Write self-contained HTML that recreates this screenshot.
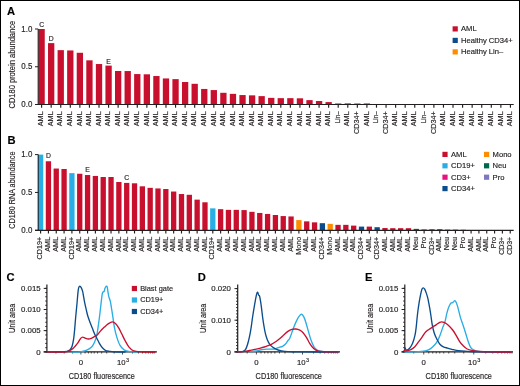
<!DOCTYPE html>
<html><head><meta charset="utf-8"><title>CD180 figure</title>
<style>
html,body{margin:0;padding:0;background:#fff;}
body{width:520px;height:386px;overflow:hidden;}
svg{display:block;font-family:"Liberation Sans",sans-serif;will-change:transform;}
text{stroke:#231F20;stroke-width:0.16px;}
</style></head>
<body>
<svg width="520" height="386" viewBox="0 0 520 386" fill="#231F20">
<rect x="0.5" y="0.5" width="519" height="385" fill="#fff" stroke="#000" stroke-width="1"/>
<text x="6.9" y="14.9" font-size="11.2" font-weight="bold" fill="#000">A</text>
<text x="7.6" y="143.9" font-size="11.2" font-weight="bold" fill="#000">B</text>
<text x="6.6" y="281.3" font-size="11.2" font-weight="bold" fill="#000">C</text>
<text x="197.8" y="281.3" font-size="11.2" font-weight="bold" fill="#000">D</text>
<text x="365" y="281.3" font-size="11.2" font-weight="bold" fill="#000">E</text>
<rect x="38.45" y="29" width="6.3" height="75.5" fill="#C8102E"/>
<rect x="48.02" y="43.12" width="6.3" height="61.38" fill="#C8102E"/>
<rect x="57.59" y="50.14" width="6.3" height="54.36" fill="#C8102E"/>
<rect x="67.15" y="50.44" width="6.3" height="54.06" fill="#C8102E"/>
<rect x="76.72" y="52.78" width="6.3" height="51.72" fill="#C8102E"/>
<rect x="86.29" y="60.33" width="6.3" height="44.17" fill="#C8102E"/>
<rect x="95.86" y="64.03" width="6.3" height="40.47" fill="#C8102E"/>
<rect x="105.43" y="65.62" width="6.3" height="38.88" fill="#C8102E"/>
<rect x="114.99" y="70.98" width="6.3" height="33.52" fill="#C8102E"/>
<rect x="124.56" y="71.05" width="6.3" height="33.45" fill="#C8102E"/>
<rect x="134.13" y="74.07" width="6.3" height="30.43" fill="#C8102E"/>
<rect x="143.7" y="74.3" width="6.3" height="30.2" fill="#C8102E"/>
<rect x="153.27" y="76.04" width="6.3" height="28.46" fill="#C8102E"/>
<rect x="162.83" y="78.45" width="6.3" height="26.05" fill="#C8102E"/>
<rect x="172.4" y="79.13" width="6.3" height="25.37" fill="#C8102E"/>
<rect x="181.97" y="82" width="6.3" height="22.5" fill="#C8102E"/>
<rect x="191.54" y="83.81" width="6.3" height="20.69" fill="#C8102E"/>
<rect x="201.11" y="88.95" width="6.3" height="15.55" fill="#C8102E"/>
<rect x="210.67" y="90.08" width="6.3" height="14.42" fill="#C8102E"/>
<rect x="220.24" y="92.8" width="6.3" height="11.7" fill="#C8102E"/>
<rect x="229.81" y="93.85" width="6.3" height="10.65" fill="#C8102E"/>
<rect x="239.38" y="95.06" width="6.3" height="9.44" fill="#C8102E"/>
<rect x="248.95" y="95.36" width="6.3" height="9.14" fill="#C8102E"/>
<rect x="258.51" y="96.12" width="6.3" height="8.38" fill="#C8102E"/>
<rect x="268.08" y="97.86" width="6.3" height="6.64" fill="#C8102E"/>
<rect x="277.65" y="98.16" width="6.3" height="6.34" fill="#C8102E"/>
<rect x="287.22" y="98.16" width="6.3" height="6.34" fill="#C8102E"/>
<rect x="296.79" y="98.31" width="6.3" height="6.19" fill="#C8102E"/>
<rect x="306.35" y="100.12" width="6.3" height="4.38" fill="#C8102E"/>
<rect x="315.92" y="101.03" width="6.3" height="3.47" fill="#C8102E"/>
<rect x="325.49" y="102.08" width="6.3" height="2.42" fill="#C8102E"/>
<rect x="335.06" y="102.99" width="6.3" height="1.51" fill="#FF8C00"/>
<rect x="344.63" y="103.37" width="6.3" height="1.13" fill="#C8102E"/>
<rect x="354.19" y="103.52" width="6.3" height="0.98" fill="#0B4D8C"/>
<rect x="363.76" y="103.44" width="6.3" height="1.06" fill="#C8102E"/>
<rect x="373.33" y="103.97" width="6.3" height="0.53" fill="#FF8C00"/>
<rect x="382.9" y="104.12" width="6.3" height="0.38" fill="#0B4D8C"/>
<rect x="392.47" y="104.12" width="6.3" height="0.38" fill="#C8102E"/>
<line x1="38.2" y1="29" x2="38.2" y2="105" stroke="#231F20" stroke-width="1.1"/>
<line x1="35" y1="104.5" x2="513.7" y2="104.5" stroke="#231F20" stroke-width="1.2"/>
<line x1="35" y1="29" x2="38.2" y2="29" stroke="#231F20" stroke-width="1"/>
<text x="32.3" y="31.6" font-size="8.3" text-anchor="end" textLength="11" lengthAdjust="spacingAndGlyphs">1.0</text>
<line x1="35" y1="66.75" x2="38.2" y2="66.75" stroke="#231F20" stroke-width="1"/>
<text x="32.3" y="69.35" font-size="8.3" text-anchor="end" textLength="11" lengthAdjust="spacingAndGlyphs">0.5</text>
<line x1="35" y1="104.5" x2="38.2" y2="104.5" stroke="#231F20" stroke-width="1"/>
<text x="32.3" y="107.1" font-size="8.3" text-anchor="end" textLength="11" lengthAdjust="spacingAndGlyphs">0.0</text>
<line x1="41.6" y1="104.5" x2="41.6" y2="107.7" stroke="#231F20" stroke-width="1.15"/>
<text x="43.3" y="111.3" font-size="7.5" text-anchor="end" textLength="15" lengthAdjust="spacingAndGlyphs" transform="rotate(-90 43.3 111.3)">AML</text>
<line x1="51.17" y1="104.5" x2="51.17" y2="107.7" stroke="#231F20" stroke-width="1.15"/>
<text x="52.87" y="111.3" font-size="7.5" text-anchor="end" textLength="15" lengthAdjust="spacingAndGlyphs" transform="rotate(-90 52.87 111.3)">AML</text>
<line x1="60.74" y1="104.5" x2="60.74" y2="107.7" stroke="#231F20" stroke-width="1.15"/>
<text x="62.44" y="111.3" font-size="7.5" text-anchor="end" textLength="15" lengthAdjust="spacingAndGlyphs" transform="rotate(-90 62.44 111.3)">AML</text>
<line x1="70.3" y1="104.5" x2="70.3" y2="107.7" stroke="#231F20" stroke-width="1.15"/>
<text x="72" y="111.3" font-size="7.5" text-anchor="end" textLength="15" lengthAdjust="spacingAndGlyphs" transform="rotate(-90 72 111.3)">AML</text>
<line x1="79.87" y1="104.5" x2="79.87" y2="107.7" stroke="#231F20" stroke-width="1.15"/>
<text x="81.57" y="111.3" font-size="7.5" text-anchor="end" textLength="15" lengthAdjust="spacingAndGlyphs" transform="rotate(-90 81.57 111.3)">AML</text>
<line x1="89.44" y1="104.5" x2="89.44" y2="107.7" stroke="#231F20" stroke-width="1.15"/>
<text x="91.14" y="111.3" font-size="7.5" text-anchor="end" textLength="15" lengthAdjust="spacingAndGlyphs" transform="rotate(-90 91.14 111.3)">AML</text>
<line x1="99.01" y1="104.5" x2="99.01" y2="107.7" stroke="#231F20" stroke-width="1.15"/>
<text x="100.71" y="111.3" font-size="7.5" text-anchor="end" textLength="15" lengthAdjust="spacingAndGlyphs" transform="rotate(-90 100.71 111.3)">AML</text>
<line x1="108.58" y1="104.5" x2="108.58" y2="107.7" stroke="#231F20" stroke-width="1.15"/>
<text x="110.28" y="111.3" font-size="7.5" text-anchor="end" textLength="15" lengthAdjust="spacingAndGlyphs" transform="rotate(-90 110.28 111.3)">AML</text>
<line x1="118.14" y1="104.5" x2="118.14" y2="107.7" stroke="#231F20" stroke-width="1.15"/>
<text x="119.84" y="111.3" font-size="7.5" text-anchor="end" textLength="15" lengthAdjust="spacingAndGlyphs" transform="rotate(-90 119.84 111.3)">AML</text>
<line x1="127.71" y1="104.5" x2="127.71" y2="107.7" stroke="#231F20" stroke-width="1.15"/>
<text x="129.41" y="111.3" font-size="7.5" text-anchor="end" textLength="15" lengthAdjust="spacingAndGlyphs" transform="rotate(-90 129.41 111.3)">AML</text>
<line x1="137.28" y1="104.5" x2="137.28" y2="107.7" stroke="#231F20" stroke-width="1.15"/>
<text x="138.98" y="111.3" font-size="7.5" text-anchor="end" textLength="15" lengthAdjust="spacingAndGlyphs" transform="rotate(-90 138.98 111.3)">AML</text>
<line x1="146.85" y1="104.5" x2="146.85" y2="107.7" stroke="#231F20" stroke-width="1.15"/>
<text x="148.55" y="111.3" font-size="7.5" text-anchor="end" textLength="15" lengthAdjust="spacingAndGlyphs" transform="rotate(-90 148.55 111.3)">AML</text>
<line x1="156.42" y1="104.5" x2="156.42" y2="107.7" stroke="#231F20" stroke-width="1.15"/>
<text x="158.12" y="111.3" font-size="7.5" text-anchor="end" textLength="15" lengthAdjust="spacingAndGlyphs" transform="rotate(-90 158.12 111.3)">AML</text>
<line x1="165.98" y1="104.5" x2="165.98" y2="107.7" stroke="#231F20" stroke-width="1.15"/>
<text x="167.68" y="111.3" font-size="7.5" text-anchor="end" textLength="15" lengthAdjust="spacingAndGlyphs" transform="rotate(-90 167.68 111.3)">AML</text>
<line x1="175.55" y1="104.5" x2="175.55" y2="107.7" stroke="#231F20" stroke-width="1.15"/>
<text x="177.25" y="111.3" font-size="7.5" text-anchor="end" textLength="15" lengthAdjust="spacingAndGlyphs" transform="rotate(-90 177.25 111.3)">AML</text>
<line x1="185.12" y1="104.5" x2="185.12" y2="107.7" stroke="#231F20" stroke-width="1.15"/>
<text x="186.82" y="111.3" font-size="7.5" text-anchor="end" textLength="15" lengthAdjust="spacingAndGlyphs" transform="rotate(-90 186.82 111.3)">AML</text>
<line x1="194.69" y1="104.5" x2="194.69" y2="107.7" stroke="#231F20" stroke-width="1.15"/>
<text x="196.39" y="111.3" font-size="7.5" text-anchor="end" textLength="15" lengthAdjust="spacingAndGlyphs" transform="rotate(-90 196.39 111.3)">AML</text>
<line x1="204.26" y1="104.5" x2="204.26" y2="107.7" stroke="#231F20" stroke-width="1.15"/>
<text x="205.96" y="111.3" font-size="7.5" text-anchor="end" textLength="15" lengthAdjust="spacingAndGlyphs" transform="rotate(-90 205.96 111.3)">AML</text>
<line x1="213.82" y1="104.5" x2="213.82" y2="107.7" stroke="#231F20" stroke-width="1.15"/>
<text x="215.52" y="111.3" font-size="7.5" text-anchor="end" textLength="15" lengthAdjust="spacingAndGlyphs" transform="rotate(-90 215.52 111.3)">AML</text>
<line x1="223.39" y1="104.5" x2="223.39" y2="107.7" stroke="#231F20" stroke-width="1.15"/>
<text x="225.09" y="111.3" font-size="7.5" text-anchor="end" textLength="15" lengthAdjust="spacingAndGlyphs" transform="rotate(-90 225.09 111.3)">AML</text>
<line x1="232.96" y1="104.5" x2="232.96" y2="107.7" stroke="#231F20" stroke-width="1.15"/>
<text x="234.66" y="111.3" font-size="7.5" text-anchor="end" textLength="15" lengthAdjust="spacingAndGlyphs" transform="rotate(-90 234.66 111.3)">AML</text>
<line x1="242.53" y1="104.5" x2="242.53" y2="107.7" stroke="#231F20" stroke-width="1.15"/>
<text x="244.23" y="111.3" font-size="7.5" text-anchor="end" textLength="15" lengthAdjust="spacingAndGlyphs" transform="rotate(-90 244.23 111.3)">AML</text>
<line x1="252.1" y1="104.5" x2="252.1" y2="107.7" stroke="#231F20" stroke-width="1.15"/>
<text x="253.8" y="111.3" font-size="7.5" text-anchor="end" textLength="15" lengthAdjust="spacingAndGlyphs" transform="rotate(-90 253.8 111.3)">AML</text>
<line x1="261.66" y1="104.5" x2="261.66" y2="107.7" stroke="#231F20" stroke-width="1.15"/>
<text x="263.36" y="111.3" font-size="7.5" text-anchor="end" textLength="15" lengthAdjust="spacingAndGlyphs" transform="rotate(-90 263.36 111.3)">AML</text>
<line x1="271.23" y1="104.5" x2="271.23" y2="107.7" stroke="#231F20" stroke-width="1.15"/>
<text x="272.93" y="111.3" font-size="7.5" text-anchor="end" textLength="15" lengthAdjust="spacingAndGlyphs" transform="rotate(-90 272.93 111.3)">AML</text>
<line x1="280.8" y1="104.5" x2="280.8" y2="107.7" stroke="#231F20" stroke-width="1.15"/>
<text x="282.5" y="111.3" font-size="7.5" text-anchor="end" textLength="15" lengthAdjust="spacingAndGlyphs" transform="rotate(-90 282.5 111.3)">AML</text>
<line x1="290.37" y1="104.5" x2="290.37" y2="107.7" stroke="#231F20" stroke-width="1.15"/>
<text x="292.07" y="111.3" font-size="7.5" text-anchor="end" textLength="15" lengthAdjust="spacingAndGlyphs" transform="rotate(-90 292.07 111.3)">AML</text>
<line x1="299.94" y1="104.5" x2="299.94" y2="107.7" stroke="#231F20" stroke-width="1.15"/>
<text x="301.64" y="111.3" font-size="7.5" text-anchor="end" textLength="15" lengthAdjust="spacingAndGlyphs" transform="rotate(-90 301.64 111.3)">AML</text>
<line x1="309.5" y1="104.5" x2="309.5" y2="107.7" stroke="#231F20" stroke-width="1.15"/>
<text x="311.2" y="111.3" font-size="7.5" text-anchor="end" textLength="15" lengthAdjust="spacingAndGlyphs" transform="rotate(-90 311.2 111.3)">AML</text>
<line x1="319.07" y1="104.5" x2="319.07" y2="107.7" stroke="#231F20" stroke-width="1.15"/>
<text x="320.77" y="111.3" font-size="7.5" text-anchor="end" textLength="15" lengthAdjust="spacingAndGlyphs" transform="rotate(-90 320.77 111.3)">AML</text>
<line x1="328.64" y1="104.5" x2="328.64" y2="107.7" stroke="#231F20" stroke-width="1.15"/>
<text x="330.34" y="111.3" font-size="7.5" text-anchor="end" textLength="15" lengthAdjust="spacingAndGlyphs" transform="rotate(-90 330.34 111.3)">AML</text>
<line x1="338.21" y1="104.5" x2="338.21" y2="107.7" stroke="#231F20" stroke-width="1.15"/>
<text x="339.91" y="111.3" font-size="7.5" text-anchor="end" textLength="12" lengthAdjust="spacingAndGlyphs" transform="rotate(-90 339.91 111.3)">Lin–</text>
<line x1="347.78" y1="104.5" x2="347.78" y2="107.7" stroke="#231F20" stroke-width="1.15"/>
<text x="349.48" y="111.3" font-size="7.5" text-anchor="end" textLength="15" lengthAdjust="spacingAndGlyphs" transform="rotate(-90 349.48 111.3)">AML</text>
<line x1="357.34" y1="104.5" x2="357.34" y2="107.7" stroke="#231F20" stroke-width="1.15"/>
<text x="359.04" y="111.3" font-size="7.5" text-anchor="end" textLength="22.6" lengthAdjust="spacingAndGlyphs" transform="rotate(-90 359.04 111.3)">CD34+</text>
<line x1="366.91" y1="104.5" x2="366.91" y2="107.7" stroke="#231F20" stroke-width="1.15"/>
<text x="368.61" y="111.3" font-size="7.5" text-anchor="end" textLength="15" lengthAdjust="spacingAndGlyphs" transform="rotate(-90 368.61 111.3)">AML</text>
<line x1="376.48" y1="104.5" x2="376.48" y2="107.7" stroke="#231F20" stroke-width="1.15"/>
<text x="378.18" y="111.3" font-size="7.5" text-anchor="end" textLength="12" lengthAdjust="spacingAndGlyphs" transform="rotate(-90 378.18 111.3)">Lin–</text>
<line x1="386.05" y1="104.5" x2="386.05" y2="107.7" stroke="#231F20" stroke-width="1.15"/>
<text x="387.75" y="111.3" font-size="7.5" text-anchor="end" textLength="22.6" lengthAdjust="spacingAndGlyphs" transform="rotate(-90 387.75 111.3)">CD34+</text>
<line x1="395.62" y1="104.5" x2="395.62" y2="107.7" stroke="#231F20" stroke-width="1.15"/>
<text x="397.32" y="111.3" font-size="7.5" text-anchor="end" textLength="15" lengthAdjust="spacingAndGlyphs" transform="rotate(-90 397.32 111.3)">AML</text>
<line x1="405.18" y1="104.5" x2="405.18" y2="107.7" stroke="#231F20" stroke-width="1.15"/>
<text x="406.88" y="111.3" font-size="7.5" text-anchor="end" textLength="15" lengthAdjust="spacingAndGlyphs" transform="rotate(-90 406.88 111.3)">AML</text>
<line x1="414.75" y1="104.5" x2="414.75" y2="107.7" stroke="#231F20" stroke-width="1.15"/>
<text x="416.45" y="111.3" font-size="7.5" text-anchor="end" textLength="15" lengthAdjust="spacingAndGlyphs" transform="rotate(-90 416.45 111.3)">AML</text>
<line x1="424.32" y1="104.5" x2="424.32" y2="107.7" stroke="#231F20" stroke-width="1.15"/>
<text x="426.02" y="111.3" font-size="7.5" text-anchor="end" textLength="12" lengthAdjust="spacingAndGlyphs" transform="rotate(-90 426.02 111.3)">Lin–</text>
<line x1="433.89" y1="104.5" x2="433.89" y2="107.7" stroke="#231F20" stroke-width="1.15"/>
<text x="435.59" y="111.3" font-size="7.5" text-anchor="end" textLength="22.6" lengthAdjust="spacingAndGlyphs" transform="rotate(-90 435.59 111.3)">CD34+</text>
<line x1="443.46" y1="104.5" x2="443.46" y2="107.7" stroke="#231F20" stroke-width="1.15"/>
<text x="445.16" y="111.3" font-size="7.5" text-anchor="end" textLength="15" lengthAdjust="spacingAndGlyphs" transform="rotate(-90 445.16 111.3)">AML</text>
<line x1="453.02" y1="104.5" x2="453.02" y2="107.7" stroke="#231F20" stroke-width="1.15"/>
<text x="454.72" y="111.3" font-size="7.5" text-anchor="end" textLength="15" lengthAdjust="spacingAndGlyphs" transform="rotate(-90 454.72 111.3)">AML</text>
<line x1="462.59" y1="104.5" x2="462.59" y2="107.7" stroke="#231F20" stroke-width="1.15"/>
<text x="464.29" y="111.3" font-size="7.5" text-anchor="end" textLength="15" lengthAdjust="spacingAndGlyphs" transform="rotate(-90 464.29 111.3)">AML</text>
<line x1="472.16" y1="104.5" x2="472.16" y2="107.7" stroke="#231F20" stroke-width="1.15"/>
<text x="473.86" y="111.3" font-size="7.5" text-anchor="end" textLength="15" lengthAdjust="spacingAndGlyphs" transform="rotate(-90 473.86 111.3)">AML</text>
<line x1="481.73" y1="104.5" x2="481.73" y2="107.7" stroke="#231F20" stroke-width="1.15"/>
<text x="483.43" y="111.3" font-size="7.5" text-anchor="end" textLength="15" lengthAdjust="spacingAndGlyphs" transform="rotate(-90 483.43 111.3)">AML</text>
<line x1="491.3" y1="104.5" x2="491.3" y2="107.7" stroke="#231F20" stroke-width="1.15"/>
<text x="493" y="111.3" font-size="7.5" text-anchor="end" textLength="15" lengthAdjust="spacingAndGlyphs" transform="rotate(-90 493 111.3)">AML</text>
<line x1="500.86" y1="104.5" x2="500.86" y2="107.7" stroke="#231F20" stroke-width="1.15"/>
<text x="502.56" y="111.3" font-size="7.5" text-anchor="end" textLength="15" lengthAdjust="spacingAndGlyphs" transform="rotate(-90 502.56 111.3)">AML</text>
<line x1="510.43" y1="104.5" x2="510.43" y2="107.7" stroke="#231F20" stroke-width="1.15"/>
<text x="512.13" y="111.3" font-size="7.5" text-anchor="end" textLength="15" lengthAdjust="spacingAndGlyphs" transform="rotate(-90 512.13 111.3)">AML</text>
<text x="41.6" y="27.3" font-size="6.8" text-anchor="middle">C</text>
<text x="51.17" y="41.1" font-size="6.8" text-anchor="middle">D</text>
<text x="108.58" y="63.8" font-size="6.8" text-anchor="middle">E</text>
<text x="15" y="64.7" font-size="8.6" text-anchor="middle" textLength="87.6" lengthAdjust="spacingAndGlyphs" transform="rotate(-90 15 64.7)">CD180 protein abundance</text>
<rect x="452.6" y="26.3" width="5.2" height="5.2" fill="#C8102E"/>
<text x="461" y="31.1" font-size="7.6">AML</text>
<rect x="452.6" y="37.8" width="5.2" height="5.2" fill="#0B4D8C"/>
<text x="461" y="42.6" font-size="7.6">Healthy CD34+</text>
<rect x="452.6" y="49.3" width="5.2" height="5.2" fill="#FF8C00"/>
<text x="461" y="54.1" font-size="7.6">Healthy Lin–</text>
<rect x="37.95" y="154.6" width="5.3" height="75.7" fill="#29ADE5"/>
<rect x="45.78" y="161.26" width="5.3" height="69.04" fill="#C8102E"/>
<rect x="53.6" y="168.53" width="5.3" height="61.77" fill="#C8102E"/>
<rect x="61.43" y="168.98" width="5.3" height="61.32" fill="#C8102E"/>
<rect x="69.26" y="173.15" width="5.3" height="57.15" fill="#29ADE5"/>
<rect x="77.08" y="173.75" width="5.3" height="56.55" fill="#C8102E"/>
<rect x="84.91" y="175.04" width="5.3" height="55.26" fill="#C8102E"/>
<rect x="92.74" y="175.95" width="5.3" height="54.35" fill="#C8102E"/>
<rect x="100.57" y="177.01" width="5.3" height="53.29" fill="#C8102E"/>
<rect x="108.39" y="177.01" width="5.3" height="53.29" fill="#C8102E"/>
<rect x="116.22" y="182" width="5.3" height="48.3" fill="#C8102E"/>
<rect x="124.05" y="182.91" width="5.3" height="47.39" fill="#C8102E"/>
<rect x="131.87" y="183.29" width="5.3" height="47.01" fill="#C8102E"/>
<rect x="139.7" y="186.32" width="5.3" height="43.98" fill="#C8102E"/>
<rect x="147.53" y="187.83" width="5.3" height="42.47" fill="#C8102E"/>
<rect x="155.35" y="188.44" width="5.3" height="41.86" fill="#C8102E"/>
<rect x="163.18" y="189.04" width="5.3" height="41.26" fill="#C8102E"/>
<rect x="171.01" y="191.54" width="5.3" height="38.76" fill="#C8102E"/>
<rect x="178.84" y="194.04" width="5.3" height="36.26" fill="#C8102E"/>
<rect x="186.66" y="194.8" width="5.3" height="35.5" fill="#C8102E"/>
<rect x="194.49" y="199.64" width="5.3" height="30.66" fill="#C8102E"/>
<rect x="202.32" y="202.29" width="5.3" height="28.01" fill="#C8102E"/>
<rect x="210.14" y="208.35" width="5.3" height="21.95" fill="#29ADE5"/>
<rect x="217.97" y="209.18" width="5.3" height="21.12" fill="#C8102E"/>
<rect x="225.8" y="209.86" width="5.3" height="20.44" fill="#C8102E"/>
<rect x="233.62" y="209.86" width="5.3" height="20.44" fill="#C8102E"/>
<rect x="241.45" y="210.09" width="5.3" height="20.21" fill="#C8102E"/>
<rect x="249.28" y="211.83" width="5.3" height="18.47" fill="#C8102E"/>
<rect x="257.11" y="212.96" width="5.3" height="17.34" fill="#C8102E"/>
<rect x="264.93" y="213.95" width="5.3" height="16.35" fill="#C8102E"/>
<rect x="272.76" y="215.01" width="5.3" height="15.29" fill="#C8102E"/>
<rect x="280.59" y="216.07" width="5.3" height="14.23" fill="#C8102E"/>
<rect x="288.41" y="216.45" width="5.3" height="13.85" fill="#C8102E"/>
<rect x="296.24" y="220.08" width="5.3" height="10.22" fill="#FF8C00"/>
<rect x="304.07" y="221.37" width="5.3" height="8.93" fill="#C8102E"/>
<rect x="311.9" y="222.35" width="5.3" height="7.95" fill="#C8102E"/>
<rect x="319.72" y="223.18" width="5.3" height="7.12" fill="#0B4D8C"/>
<rect x="327.55" y="223.87" width="5.3" height="6.43" fill="#FF8C00"/>
<rect x="335.38" y="224.85" width="5.3" height="5.45" fill="#C8102E"/>
<rect x="343.2" y="224.85" width="5.3" height="5.45" fill="#C8102E"/>
<rect x="351.03" y="225.61" width="5.3" height="4.69" fill="#C8102E"/>
<rect x="358.86" y="226.59" width="5.3" height="3.71" fill="#0B4D8C"/>
<rect x="366.68" y="226.59" width="5.3" height="3.71" fill="#C8102E"/>
<rect x="374.51" y="227.2" width="5.3" height="3.1" fill="#0B4D8C"/>
<rect x="382.34" y="228.03" width="5.3" height="2.27" fill="#C8102E"/>
<rect x="390.17" y="228.18" width="5.3" height="2.12" fill="#C8102E"/>
<rect x="397.99" y="228.18" width="5.3" height="2.12" fill="#C8102E"/>
<rect x="405.82" y="228.18" width="5.3" height="2.12" fill="#C8102E"/>
<rect x="413.65" y="228.86" width="5.3" height="1.44" fill="#00684A"/>
<rect x="421.47" y="229.16" width="5.3" height="1.14" fill="#7F78C0"/>
<rect x="429.3" y="229.16" width="5.3" height="1.14" fill="#E6137F"/>
<rect x="437.13" y="229.16" width="5.3" height="1.14" fill="#C8102E"/>
<rect x="444.95" y="229.62" width="5.3" height="0.68" fill="#00684A"/>
<rect x="452.78" y="229.62" width="5.3" height="0.68" fill="#00684A"/>
<rect x="460.61" y="229.62" width="5.3" height="0.68" fill="#7F78C0"/>
<line x1="38.2" y1="154.6" x2="38.2" y2="230.8" stroke="#231F20" stroke-width="1.1"/>
<line x1="35" y1="230.3" x2="513.7" y2="230.3" stroke="#231F20" stroke-width="1.2"/>
<line x1="35" y1="154.6" x2="38.2" y2="154.6" stroke="#231F20" stroke-width="1"/>
<text x="32.3" y="157.2" font-size="8.3" text-anchor="end" textLength="11" lengthAdjust="spacingAndGlyphs">1.0</text>
<line x1="35" y1="192.45" x2="38.2" y2="192.45" stroke="#231F20" stroke-width="1"/>
<text x="32.3" y="195.05" font-size="8.3" text-anchor="end" textLength="11" lengthAdjust="spacingAndGlyphs">0.5</text>
<line x1="35" y1="230.3" x2="38.2" y2="230.3" stroke="#231F20" stroke-width="1"/>
<text x="32.3" y="232.9" font-size="8.3" text-anchor="end" textLength="11" lengthAdjust="spacingAndGlyphs">0.0</text>
<line x1="40.6" y1="230.3" x2="40.6" y2="233.5" stroke="#231F20" stroke-width="1.15"/>
<text x="42.3" y="236.8" font-size="7.5" text-anchor="end" textLength="22.6" lengthAdjust="spacingAndGlyphs" transform="rotate(-90 42.3 236.8)">CD19+</text>
<line x1="48.43" y1="230.3" x2="48.43" y2="233.5" stroke="#231F20" stroke-width="1.15"/>
<text x="50.13" y="236.8" font-size="7.5" text-anchor="end" textLength="15" lengthAdjust="spacingAndGlyphs" transform="rotate(-90 50.13 236.8)">AML</text>
<line x1="56.25" y1="230.3" x2="56.25" y2="233.5" stroke="#231F20" stroke-width="1.15"/>
<text x="57.95" y="236.8" font-size="7.5" text-anchor="end" textLength="15" lengthAdjust="spacingAndGlyphs" transform="rotate(-90 57.95 236.8)">AML</text>
<line x1="64.08" y1="230.3" x2="64.08" y2="233.5" stroke="#231F20" stroke-width="1.15"/>
<text x="65.78" y="236.8" font-size="7.5" text-anchor="end" textLength="15" lengthAdjust="spacingAndGlyphs" transform="rotate(-90 65.78 236.8)">AML</text>
<line x1="71.91" y1="230.3" x2="71.91" y2="233.5" stroke="#231F20" stroke-width="1.15"/>
<text x="73.61" y="236.8" font-size="7.5" text-anchor="end" textLength="22.6" lengthAdjust="spacingAndGlyphs" transform="rotate(-90 73.61 236.8)">CD19+</text>
<line x1="79.73" y1="230.3" x2="79.73" y2="233.5" stroke="#231F20" stroke-width="1.15"/>
<text x="81.44" y="236.8" font-size="7.5" text-anchor="end" textLength="15" lengthAdjust="spacingAndGlyphs" transform="rotate(-90 81.44 236.8)">AML</text>
<line x1="87.56" y1="230.3" x2="87.56" y2="233.5" stroke="#231F20" stroke-width="1.15"/>
<text x="89.26" y="236.8" font-size="7.5" text-anchor="end" textLength="15" lengthAdjust="spacingAndGlyphs" transform="rotate(-90 89.26 236.8)">AML</text>
<line x1="95.39" y1="230.3" x2="95.39" y2="233.5" stroke="#231F20" stroke-width="1.15"/>
<text x="97.09" y="236.8" font-size="7.5" text-anchor="end" textLength="15" lengthAdjust="spacingAndGlyphs" transform="rotate(-90 97.09 236.8)">AML</text>
<line x1="103.22" y1="230.3" x2="103.22" y2="233.5" stroke="#231F20" stroke-width="1.15"/>
<text x="104.92" y="236.8" font-size="7.5" text-anchor="end" textLength="15" lengthAdjust="spacingAndGlyphs" transform="rotate(-90 104.92 236.8)">AML</text>
<line x1="111.04" y1="230.3" x2="111.04" y2="233.5" stroke="#231F20" stroke-width="1.15"/>
<text x="112.74" y="236.8" font-size="7.5" text-anchor="end" textLength="15" lengthAdjust="spacingAndGlyphs" transform="rotate(-90 112.74 236.8)">AML</text>
<line x1="118.87" y1="230.3" x2="118.87" y2="233.5" stroke="#231F20" stroke-width="1.15"/>
<text x="120.57" y="236.8" font-size="7.5" text-anchor="end" textLength="15" lengthAdjust="spacingAndGlyphs" transform="rotate(-90 120.57 236.8)">AML</text>
<line x1="126.7" y1="230.3" x2="126.7" y2="233.5" stroke="#231F20" stroke-width="1.15"/>
<text x="128.4" y="236.8" font-size="7.5" text-anchor="end" textLength="15" lengthAdjust="spacingAndGlyphs" transform="rotate(-90 128.4 236.8)">AML</text>
<line x1="134.52" y1="230.3" x2="134.52" y2="233.5" stroke="#231F20" stroke-width="1.15"/>
<text x="136.22" y="236.8" font-size="7.5" text-anchor="end" textLength="15" lengthAdjust="spacingAndGlyphs" transform="rotate(-90 136.22 236.8)">AML</text>
<line x1="142.35" y1="230.3" x2="142.35" y2="233.5" stroke="#231F20" stroke-width="1.15"/>
<text x="144.05" y="236.8" font-size="7.5" text-anchor="end" textLength="15" lengthAdjust="spacingAndGlyphs" transform="rotate(-90 144.05 236.8)">AML</text>
<line x1="150.18" y1="230.3" x2="150.18" y2="233.5" stroke="#231F20" stroke-width="1.15"/>
<text x="151.88" y="236.8" font-size="7.5" text-anchor="end" textLength="15" lengthAdjust="spacingAndGlyphs" transform="rotate(-90 151.88 236.8)">AML</text>
<line x1="158" y1="230.3" x2="158" y2="233.5" stroke="#231F20" stroke-width="1.15"/>
<text x="159.7" y="236.8" font-size="7.5" text-anchor="end" textLength="15" lengthAdjust="spacingAndGlyphs" transform="rotate(-90 159.7 236.8)">AML</text>
<line x1="165.83" y1="230.3" x2="165.83" y2="233.5" stroke="#231F20" stroke-width="1.15"/>
<text x="167.53" y="236.8" font-size="7.5" text-anchor="end" textLength="15" lengthAdjust="spacingAndGlyphs" transform="rotate(-90 167.53 236.8)">AML</text>
<line x1="173.66" y1="230.3" x2="173.66" y2="233.5" stroke="#231F20" stroke-width="1.15"/>
<text x="175.36" y="236.8" font-size="7.5" text-anchor="end" textLength="15" lengthAdjust="spacingAndGlyphs" transform="rotate(-90 175.36 236.8)">AML</text>
<line x1="181.49" y1="230.3" x2="181.49" y2="233.5" stroke="#231F20" stroke-width="1.15"/>
<text x="183.19" y="236.8" font-size="7.5" text-anchor="end" textLength="15" lengthAdjust="spacingAndGlyphs" transform="rotate(-90 183.19 236.8)">AML</text>
<line x1="189.31" y1="230.3" x2="189.31" y2="233.5" stroke="#231F20" stroke-width="1.15"/>
<text x="191.01" y="236.8" font-size="7.5" text-anchor="end" textLength="15" lengthAdjust="spacingAndGlyphs" transform="rotate(-90 191.01 236.8)">AML</text>
<line x1="197.14" y1="230.3" x2="197.14" y2="233.5" stroke="#231F20" stroke-width="1.15"/>
<text x="198.84" y="236.8" font-size="7.5" text-anchor="end" textLength="15" lengthAdjust="spacingAndGlyphs" transform="rotate(-90 198.84 236.8)">AML</text>
<line x1="204.97" y1="230.3" x2="204.97" y2="233.5" stroke="#231F20" stroke-width="1.15"/>
<text x="206.67" y="236.8" font-size="7.5" text-anchor="end" textLength="15" lengthAdjust="spacingAndGlyphs" transform="rotate(-90 206.67 236.8)">AML</text>
<line x1="212.79" y1="230.3" x2="212.79" y2="233.5" stroke="#231F20" stroke-width="1.15"/>
<text x="214.49" y="236.8" font-size="7.5" text-anchor="end" textLength="22.6" lengthAdjust="spacingAndGlyphs" transform="rotate(-90 214.49 236.8)">CD19+</text>
<line x1="220.62" y1="230.3" x2="220.62" y2="233.5" stroke="#231F20" stroke-width="1.15"/>
<text x="222.32" y="236.8" font-size="7.5" text-anchor="end" textLength="15" lengthAdjust="spacingAndGlyphs" transform="rotate(-90 222.32 236.8)">AML</text>
<line x1="228.45" y1="230.3" x2="228.45" y2="233.5" stroke="#231F20" stroke-width="1.15"/>
<text x="230.15" y="236.8" font-size="7.5" text-anchor="end" textLength="15" lengthAdjust="spacingAndGlyphs" transform="rotate(-90 230.15 236.8)">AML</text>
<line x1="236.28" y1="230.3" x2="236.28" y2="233.5" stroke="#231F20" stroke-width="1.15"/>
<text x="237.97" y="236.8" font-size="7.5" text-anchor="end" textLength="15" lengthAdjust="spacingAndGlyphs" transform="rotate(-90 237.97 236.8)">AML</text>
<line x1="244.1" y1="230.3" x2="244.1" y2="233.5" stroke="#231F20" stroke-width="1.15"/>
<text x="245.8" y="236.8" font-size="7.5" text-anchor="end" textLength="15" lengthAdjust="spacingAndGlyphs" transform="rotate(-90 245.8 236.8)">AML</text>
<line x1="251.93" y1="230.3" x2="251.93" y2="233.5" stroke="#231F20" stroke-width="1.15"/>
<text x="253.63" y="236.8" font-size="7.5" text-anchor="end" textLength="15" lengthAdjust="spacingAndGlyphs" transform="rotate(-90 253.63 236.8)">AML</text>
<line x1="259.76" y1="230.3" x2="259.76" y2="233.5" stroke="#231F20" stroke-width="1.15"/>
<text x="261.46" y="236.8" font-size="7.5" text-anchor="end" textLength="15" lengthAdjust="spacingAndGlyphs" transform="rotate(-90 261.46 236.8)">AML</text>
<line x1="267.58" y1="230.3" x2="267.58" y2="233.5" stroke="#231F20" stroke-width="1.15"/>
<text x="269.28" y="236.8" font-size="7.5" text-anchor="end" textLength="15" lengthAdjust="spacingAndGlyphs" transform="rotate(-90 269.28 236.8)">AML</text>
<line x1="275.41" y1="230.3" x2="275.41" y2="233.5" stroke="#231F20" stroke-width="1.15"/>
<text x="277.11" y="236.8" font-size="7.5" text-anchor="end" textLength="15" lengthAdjust="spacingAndGlyphs" transform="rotate(-90 277.11 236.8)">AML</text>
<line x1="283.24" y1="230.3" x2="283.24" y2="233.5" stroke="#231F20" stroke-width="1.15"/>
<text x="284.94" y="236.8" font-size="7.5" text-anchor="end" textLength="15" lengthAdjust="spacingAndGlyphs" transform="rotate(-90 284.94 236.8)">AML</text>
<line x1="291.06" y1="230.3" x2="291.06" y2="233.5" stroke="#231F20" stroke-width="1.15"/>
<text x="292.76" y="236.8" font-size="7.5" text-anchor="end" textLength="15" lengthAdjust="spacingAndGlyphs" transform="rotate(-90 292.76 236.8)">AML</text>
<line x1="298.89" y1="230.3" x2="298.89" y2="233.5" stroke="#231F20" stroke-width="1.15"/>
<text x="300.59" y="236.8" font-size="7.5" text-anchor="end" textLength="18" lengthAdjust="spacingAndGlyphs" transform="rotate(-90 300.59 236.8)">Mono</text>
<line x1="306.72" y1="230.3" x2="306.72" y2="233.5" stroke="#231F20" stroke-width="1.15"/>
<text x="308.42" y="236.8" font-size="7.5" text-anchor="end" textLength="15" lengthAdjust="spacingAndGlyphs" transform="rotate(-90 308.42 236.8)">AML</text>
<line x1="314.55" y1="230.3" x2="314.55" y2="233.5" stroke="#231F20" stroke-width="1.15"/>
<text x="316.25" y="236.8" font-size="7.5" text-anchor="end" textLength="15" lengthAdjust="spacingAndGlyphs" transform="rotate(-90 316.25 236.8)">AML</text>
<line x1="322.37" y1="230.3" x2="322.37" y2="233.5" stroke="#231F20" stroke-width="1.15"/>
<text x="324.07" y="236.8" font-size="7.5" text-anchor="end" textLength="22.6" lengthAdjust="spacingAndGlyphs" transform="rotate(-90 324.07 236.8)">CD34+</text>
<line x1="330.2" y1="230.3" x2="330.2" y2="233.5" stroke="#231F20" stroke-width="1.15"/>
<text x="331.9" y="236.8" font-size="7.5" text-anchor="end" textLength="18" lengthAdjust="spacingAndGlyphs" transform="rotate(-90 331.9 236.8)">Mono</text>
<line x1="338.03" y1="230.3" x2="338.03" y2="233.5" stroke="#231F20" stroke-width="1.15"/>
<text x="339.73" y="236.8" font-size="7.5" text-anchor="end" textLength="15" lengthAdjust="spacingAndGlyphs" transform="rotate(-90 339.73 236.8)">AML</text>
<line x1="345.85" y1="230.3" x2="345.85" y2="233.5" stroke="#231F20" stroke-width="1.15"/>
<text x="347.55" y="236.8" font-size="7.5" text-anchor="end" textLength="15" lengthAdjust="spacingAndGlyphs" transform="rotate(-90 347.55 236.8)">AML</text>
<line x1="353.68" y1="230.3" x2="353.68" y2="233.5" stroke="#231F20" stroke-width="1.15"/>
<text x="355.38" y="236.8" font-size="7.5" text-anchor="end" textLength="15" lengthAdjust="spacingAndGlyphs" transform="rotate(-90 355.38 236.8)">AML</text>
<line x1="361.51" y1="230.3" x2="361.51" y2="233.5" stroke="#231F20" stroke-width="1.15"/>
<text x="363.21" y="236.8" font-size="7.5" text-anchor="end" textLength="22.6" lengthAdjust="spacingAndGlyphs" transform="rotate(-90 363.21 236.8)">CD34+</text>
<line x1="369.33" y1="230.3" x2="369.33" y2="233.5" stroke="#231F20" stroke-width="1.15"/>
<text x="371.03" y="236.8" font-size="7.5" text-anchor="end" textLength="15" lengthAdjust="spacingAndGlyphs" transform="rotate(-90 371.03 236.8)">AML</text>
<line x1="377.16" y1="230.3" x2="377.16" y2="233.5" stroke="#231F20" stroke-width="1.15"/>
<text x="378.86" y="236.8" font-size="7.5" text-anchor="end" textLength="22.6" lengthAdjust="spacingAndGlyphs" transform="rotate(-90 378.86 236.8)">CD34+</text>
<line x1="384.99" y1="230.3" x2="384.99" y2="233.5" stroke="#231F20" stroke-width="1.15"/>
<text x="386.69" y="236.8" font-size="7.5" text-anchor="end" textLength="15" lengthAdjust="spacingAndGlyphs" transform="rotate(-90 386.69 236.8)">AML</text>
<line x1="392.81" y1="230.3" x2="392.81" y2="233.5" stroke="#231F20" stroke-width="1.15"/>
<text x="394.51" y="236.8" font-size="7.5" text-anchor="end" textLength="15" lengthAdjust="spacingAndGlyphs" transform="rotate(-90 394.51 236.8)">AML</text>
<line x1="400.64" y1="230.3" x2="400.64" y2="233.5" stroke="#231F20" stroke-width="1.15"/>
<text x="402.34" y="236.8" font-size="7.5" text-anchor="end" textLength="15" lengthAdjust="spacingAndGlyphs" transform="rotate(-90 402.34 236.8)">AML</text>
<line x1="408.47" y1="230.3" x2="408.47" y2="233.5" stroke="#231F20" stroke-width="1.15"/>
<text x="410.17" y="236.8" font-size="7.5" text-anchor="end" textLength="15" lengthAdjust="spacingAndGlyphs" transform="rotate(-90 410.17 236.8)">AML</text>
<line x1="416.3" y1="230.3" x2="416.3" y2="233.5" stroke="#231F20" stroke-width="1.15"/>
<text x="418" y="236.8" font-size="7.5" text-anchor="end" textLength="13.5" lengthAdjust="spacingAndGlyphs" transform="rotate(-90 418 236.8)">Neu</text>
<line x1="424.12" y1="230.3" x2="424.12" y2="233.5" stroke="#231F20" stroke-width="1.15"/>
<text x="425.82" y="236.8" font-size="7.5" text-anchor="end" textLength="11.5" lengthAdjust="spacingAndGlyphs" transform="rotate(-90 425.82 236.8)">Pro</text>
<line x1="431.95" y1="230.3" x2="431.95" y2="233.5" stroke="#231F20" stroke-width="1.15"/>
<text x="433.65" y="236.8" font-size="7.5" text-anchor="end" textLength="18" lengthAdjust="spacingAndGlyphs" transform="rotate(-90 433.65 236.8)">CD3+</text>
<line x1="439.78" y1="230.3" x2="439.78" y2="233.5" stroke="#231F20" stroke-width="1.15"/>
<text x="441.48" y="236.8" font-size="7.5" text-anchor="end" textLength="15" lengthAdjust="spacingAndGlyphs" transform="rotate(-90 441.48 236.8)">AML</text>
<line x1="447.6" y1="230.3" x2="447.6" y2="233.5" stroke="#231F20" stroke-width="1.15"/>
<text x="449.3" y="236.8" font-size="7.5" text-anchor="end" textLength="13.5" lengthAdjust="spacingAndGlyphs" transform="rotate(-90 449.3 236.8)">Neu</text>
<line x1="455.43" y1="230.3" x2="455.43" y2="233.5" stroke="#231F20" stroke-width="1.15"/>
<text x="457.13" y="236.8" font-size="7.5" text-anchor="end" textLength="13.5" lengthAdjust="spacingAndGlyphs" transform="rotate(-90 457.13 236.8)">Neu</text>
<line x1="463.26" y1="230.3" x2="463.26" y2="233.5" stroke="#231F20" stroke-width="1.15"/>
<text x="464.96" y="236.8" font-size="7.5" text-anchor="end" textLength="11.5" lengthAdjust="spacingAndGlyphs" transform="rotate(-90 464.96 236.8)">Pro</text>
<line x1="471.09" y1="230.3" x2="471.09" y2="233.5" stroke="#231F20" stroke-width="1.15"/>
<text x="472.79" y="236.8" font-size="7.5" text-anchor="end" textLength="15" lengthAdjust="spacingAndGlyphs" transform="rotate(-90 472.79 236.8)">AML</text>
<line x1="478.91" y1="230.3" x2="478.91" y2="233.5" stroke="#231F20" stroke-width="1.15"/>
<text x="480.61" y="236.8" font-size="7.5" text-anchor="end" textLength="15" lengthAdjust="spacingAndGlyphs" transform="rotate(-90 480.61 236.8)">AML</text>
<line x1="486.74" y1="230.3" x2="486.74" y2="233.5" stroke="#231F20" stroke-width="1.15"/>
<text x="488.44" y="236.8" font-size="7.5" text-anchor="end" textLength="15" lengthAdjust="spacingAndGlyphs" transform="rotate(-90 488.44 236.8)">AML</text>
<line x1="494.57" y1="230.3" x2="494.57" y2="233.5" stroke="#231F20" stroke-width="1.15"/>
<text x="496.27" y="236.8" font-size="7.5" text-anchor="end" textLength="11.5" lengthAdjust="spacingAndGlyphs" transform="rotate(-90 496.27 236.8)">Pro</text>
<line x1="502.39" y1="230.3" x2="502.39" y2="233.5" stroke="#231F20" stroke-width="1.15"/>
<text x="504.09" y="236.8" font-size="7.5" text-anchor="end" textLength="18" lengthAdjust="spacingAndGlyphs" transform="rotate(-90 504.09 236.8)">CD3+</text>
<line x1="510.22" y1="230.3" x2="510.22" y2="233.5" stroke="#231F20" stroke-width="1.15"/>
<text x="511.92" y="236.8" font-size="7.5" text-anchor="end" textLength="18" lengthAdjust="spacingAndGlyphs" transform="rotate(-90 511.92 236.8)">CD3+</text>
<text x="48.43" y="158.1" font-size="6.8" text-anchor="middle">D</text>
<text x="87.56" y="172.1" font-size="6.8" text-anchor="middle">E</text>
<text x="126.7" y="179.8" font-size="6.8" text-anchor="middle">C</text>
<text x="15" y="190.2" font-size="8.6" text-anchor="middle" textLength="77.2" lengthAdjust="spacingAndGlyphs" transform="rotate(-90 15 190.2)">CD180 RNA abundance</text>
<rect x="442.4" y="151.8" width="5.2" height="5.2" fill="#C8102E"/>
<text x="451" y="156.7" font-size="7.6">AML</text>
<rect x="442.4" y="163.2" width="5.2" height="5.2" fill="#29ADE5"/>
<text x="451" y="168.1" font-size="7.6">CD19+</text>
<rect x="442.4" y="174.6" width="5.2" height="5.2" fill="#E6137F"/>
<text x="451" y="179.5" font-size="7.6">CD3+</text>
<rect x="442.4" y="186" width="5.2" height="5.2" fill="#0B4D8C"/>
<text x="451" y="190.9" font-size="7.6">CD34+</text>
<rect x="484" y="151.8" width="5.2" height="5.2" fill="#FF8C00"/>
<text x="492.6" y="156.7" font-size="7.6">Mono</text>
<rect x="484" y="163.2" width="5.2" height="5.2" fill="#00684A"/>
<text x="492.6" y="168.1" font-size="7.6">Neu</text>
<rect x="484" y="174.6" width="5.2" height="5.2" fill="#7F78C0"/>
<text x="492.6" y="179.5" font-size="7.6">Pro</text>
<line x1="46.9" y1="284.4" x2="46.9" y2="352.4" stroke="#231F20" stroke-width="1.2"/>
<line x1="43.7" y1="351.9" x2="156.9" y2="351.9" stroke="#231F20" stroke-width="1.1"/>
<line x1="43.7" y1="288.4" x2="46.9" y2="288.4" stroke="#231F20" stroke-width="1"/>
<text x="40.7" y="291.2" font-size="7.8" text-anchor="end" textLength="19.6" lengthAdjust="spacingAndGlyphs">0.015</text>
<line x1="43.7" y1="309.5" x2="46.9" y2="309.5" stroke="#231F20" stroke-width="1"/>
<text x="40.7" y="312.3" font-size="7.8" text-anchor="end" textLength="19.6" lengthAdjust="spacingAndGlyphs">0.010</text>
<line x1="43.7" y1="330.6" x2="46.9" y2="330.6" stroke="#231F20" stroke-width="1"/>
<text x="40.7" y="333.4" font-size="7.8" text-anchor="end" textLength="19.6" lengthAdjust="spacingAndGlyphs">0.005</text>
<line x1="43.7" y1="351.9" x2="46.9" y2="351.9" stroke="#231F20" stroke-width="1"/>
<text x="40.7" y="354.7" font-size="7.8" text-anchor="end" textLength="4.4" lengthAdjust="spacingAndGlyphs">0</text>
<line x1="45.3" y1="351.9" x2="46.9" y2="351.9" stroke="#231F20" stroke-width="1"/>
<line x1="45.3" y1="347.66" x2="46.9" y2="347.66" stroke="#231F20" stroke-width="1"/>
<line x1="45.3" y1="343.42" x2="46.9" y2="343.42" stroke="#231F20" stroke-width="1"/>
<line x1="45.3" y1="339.18" x2="46.9" y2="339.18" stroke="#231F20" stroke-width="1"/>
<line x1="45.3" y1="334.94" x2="46.9" y2="334.94" stroke="#231F20" stroke-width="1"/>
<line x1="45.3" y1="330.7" x2="46.9" y2="330.7" stroke="#231F20" stroke-width="1"/>
<line x1="45.3" y1="326.46" x2="46.9" y2="326.46" stroke="#231F20" stroke-width="1"/>
<line x1="45.3" y1="322.22" x2="46.9" y2="322.22" stroke="#231F20" stroke-width="1"/>
<line x1="45.3" y1="317.98" x2="46.9" y2="317.98" stroke="#231F20" stroke-width="1"/>
<line x1="45.3" y1="313.74" x2="46.9" y2="313.74" stroke="#231F20" stroke-width="1"/>
<line x1="45.3" y1="309.5" x2="46.9" y2="309.5" stroke="#231F20" stroke-width="1"/>
<line x1="45.3" y1="305.26" x2="46.9" y2="305.26" stroke="#231F20" stroke-width="1"/>
<line x1="45.3" y1="301.02" x2="46.9" y2="301.02" stroke="#231F20" stroke-width="1"/>
<line x1="45.3" y1="296.78" x2="46.9" y2="296.78" stroke="#231F20" stroke-width="1"/>
<line x1="45.3" y1="292.54" x2="46.9" y2="292.54" stroke="#231F20" stroke-width="1"/>
<line x1="45.3" y1="288.3" x2="46.9" y2="288.3" stroke="#231F20" stroke-width="1"/>
<line x1="72.58" y1="351.9" x2="72.58" y2="353.5" stroke="#231F20" stroke-width="0.8"/>
<line x1="64.26" y1="351.9" x2="64.26" y2="353.5" stroke="#231F20" stroke-width="0.8"/>
<line x1="55.94" y1="351.9" x2="55.94" y2="353.5" stroke="#231F20" stroke-width="0.8"/>
<line x1="80.9" y1="351.9" x2="80.9" y2="354.5" stroke="#231F20" stroke-width="0.8"/>
<line x1="85.06" y1="351.9" x2="85.06" y2="353.5" stroke="#231F20" stroke-width="0.8"/>
<line x1="88.39" y1="351.9" x2="88.39" y2="353.5" stroke="#231F20" stroke-width="0.8"/>
<line x1="91.3" y1="351.9" x2="91.3" y2="353.5" stroke="#231F20" stroke-width="0.8"/>
<line x1="94.21" y1="351.9" x2="94.21" y2="353.5" stroke="#231F20" stroke-width="0.8"/>
<line x1="97.54" y1="351.9" x2="97.54" y2="353.5" stroke="#231F20" stroke-width="0.8"/>
<line x1="101.7" y1="351.9" x2="101.7" y2="353.5" stroke="#231F20" stroke-width="0.8"/>
<line x1="106.69" y1="351.9" x2="106.69" y2="353.5" stroke="#231F20" stroke-width="0.8"/>
<line x1="114.18" y1="351.9" x2="114.18" y2="353.5" stroke="#231F20" stroke-width="0.8"/>
<line x1="122.5" y1="351.9" x2="122.5" y2="354.5" stroke="#231F20" stroke-width="0.8"/>
<line x1="132.52" y1="351.9" x2="132.52" y2="353.5" stroke="#231F20" stroke-width="0.8"/>
<line x1="138.38" y1="351.9" x2="138.38" y2="353.5" stroke="#231F20" stroke-width="0.8"/>
<line x1="142.54" y1="351.9" x2="142.54" y2="353.5" stroke="#231F20" stroke-width="0.8"/>
<line x1="145.76" y1="351.9" x2="145.76" y2="353.5" stroke="#231F20" stroke-width="0.8"/>
<line x1="148.4" y1="351.9" x2="148.4" y2="353.5" stroke="#231F20" stroke-width="0.8"/>
<line x1="150.62" y1="351.9" x2="150.62" y2="353.5" stroke="#231F20" stroke-width="0.8"/>
<line x1="152.55" y1="351.9" x2="152.55" y2="353.5" stroke="#231F20" stroke-width="0.8"/>
<line x1="154.26" y1="351.9" x2="154.26" y2="353.5" stroke="#231F20" stroke-width="0.8"/>
<text x="80.9" y="364.9" font-size="7.8" text-anchor="middle">0</text>
<text x="116.9" y="364.9" font-size="7.8" textLength="8.6" lengthAdjust="spacingAndGlyphs">10</text>
<text transform="translate(126 361.9) scale(0.5)" font-size="11" style="stroke-width:0.3px">3</text>
<text x="68.7" y="379" font-size="9" textLength="66.1" lengthAdjust="spacingAndGlyphs">CD180 fluorescence</text>
<text x="14.9" y="318.3" font-size="8.8" text-anchor="middle" textLength="29.2" lengthAdjust="spacingAndGlyphs" transform="rotate(-90 14.9 318.3)">Unit area</text>
<line x1="237.7" y1="284.5" x2="237.7" y2="352.4" stroke="#231F20" stroke-width="1.2"/>
<line x1="234.5" y1="351.9" x2="340" y2="351.9" stroke="#231F20" stroke-width="1.1"/>
<line x1="234.5" y1="288.6" x2="237.7" y2="288.6" stroke="#231F20" stroke-width="1"/>
<text x="230.9" y="291.4" font-size="7.8" text-anchor="end" textLength="19.6" lengthAdjust="spacingAndGlyphs">0.020</text>
<line x1="234.5" y1="320.2" x2="237.7" y2="320.2" stroke="#231F20" stroke-width="1"/>
<text x="230.9" y="323" font-size="7.8" text-anchor="end" textLength="19.6" lengthAdjust="spacingAndGlyphs">0.010</text>
<line x1="234.5" y1="351.9" x2="237.7" y2="351.9" stroke="#231F20" stroke-width="1"/>
<text x="230.9" y="354.7" font-size="7.8" text-anchor="end" textLength="4.4" lengthAdjust="spacingAndGlyphs">0</text>
<line x1="236.1" y1="351.9" x2="237.7" y2="351.9" stroke="#231F20" stroke-width="1"/>
<line x1="236.1" y1="348.73" x2="237.7" y2="348.73" stroke="#231F20" stroke-width="1"/>
<line x1="236.1" y1="345.57" x2="237.7" y2="345.57" stroke="#231F20" stroke-width="1"/>
<line x1="236.1" y1="342.4" x2="237.7" y2="342.4" stroke="#231F20" stroke-width="1"/>
<line x1="236.1" y1="339.24" x2="237.7" y2="339.24" stroke="#231F20" stroke-width="1"/>
<line x1="236.1" y1="336.07" x2="237.7" y2="336.07" stroke="#231F20" stroke-width="1"/>
<line x1="236.1" y1="332.91" x2="237.7" y2="332.91" stroke="#231F20" stroke-width="1"/>
<line x1="236.1" y1="329.74" x2="237.7" y2="329.74" stroke="#231F20" stroke-width="1"/>
<line x1="236.1" y1="326.58" x2="237.7" y2="326.58" stroke="#231F20" stroke-width="1"/>
<line x1="236.1" y1="323.41" x2="237.7" y2="323.41" stroke="#231F20" stroke-width="1"/>
<line x1="236.1" y1="320.25" x2="237.7" y2="320.25" stroke="#231F20" stroke-width="1"/>
<line x1="236.1" y1="317.08" x2="237.7" y2="317.08" stroke="#231F20" stroke-width="1"/>
<line x1="236.1" y1="313.92" x2="237.7" y2="313.92" stroke="#231F20" stroke-width="1"/>
<line x1="236.1" y1="310.75" x2="237.7" y2="310.75" stroke="#231F20" stroke-width="1"/>
<line x1="236.1" y1="307.59" x2="237.7" y2="307.59" stroke="#231F20" stroke-width="1"/>
<line x1="236.1" y1="304.42" x2="237.7" y2="304.42" stroke="#231F20" stroke-width="1"/>
<line x1="236.1" y1="301.26" x2="237.7" y2="301.26" stroke="#231F20" stroke-width="1"/>
<line x1="236.1" y1="298.09" x2="237.7" y2="298.09" stroke="#231F20" stroke-width="1"/>
<line x1="236.1" y1="294.93" x2="237.7" y2="294.93" stroke="#231F20" stroke-width="1"/>
<line x1="236.1" y1="291.76" x2="237.7" y2="291.76" stroke="#231F20" stroke-width="1"/>
<line x1="236.1" y1="288.6" x2="237.7" y2="288.6" stroke="#231F20" stroke-width="1"/>
<line x1="247.18" y1="351.9" x2="247.18" y2="353.5" stroke="#231F20" stroke-width="0.8"/>
<line x1="256.4" y1="351.9" x2="256.4" y2="354.5" stroke="#231F20" stroke-width="0.8"/>
<line x1="261.01" y1="351.9" x2="261.01" y2="353.5" stroke="#231F20" stroke-width="0.8"/>
<line x1="264.7" y1="351.9" x2="264.7" y2="353.5" stroke="#231F20" stroke-width="0.8"/>
<line x1="267.92" y1="351.9" x2="267.92" y2="353.5" stroke="#231F20" stroke-width="0.8"/>
<line x1="271.15" y1="351.9" x2="271.15" y2="353.5" stroke="#231F20" stroke-width="0.8"/>
<line x1="274.84" y1="351.9" x2="274.84" y2="353.5" stroke="#231F20" stroke-width="0.8"/>
<line x1="279.45" y1="351.9" x2="279.45" y2="353.5" stroke="#231F20" stroke-width="0.8"/>
<line x1="284.98" y1="351.9" x2="284.98" y2="353.5" stroke="#231F20" stroke-width="0.8"/>
<line x1="293.28" y1="351.9" x2="293.28" y2="353.5" stroke="#231F20" stroke-width="0.8"/>
<line x1="302.5" y1="351.9" x2="302.5" y2="354.5" stroke="#231F20" stroke-width="0.8"/>
<line x1="313.6" y1="351.9" x2="313.6" y2="353.5" stroke="#231F20" stroke-width="0.8"/>
<line x1="320.1" y1="351.9" x2="320.1" y2="353.5" stroke="#231F20" stroke-width="0.8"/>
<line x1="324.7" y1="351.9" x2="324.7" y2="353.5" stroke="#231F20" stroke-width="0.8"/>
<line x1="328.28" y1="351.9" x2="328.28" y2="353.5" stroke="#231F20" stroke-width="0.8"/>
<line x1="331.2" y1="351.9" x2="331.2" y2="353.5" stroke="#231F20" stroke-width="0.8"/>
<line x1="333.67" y1="351.9" x2="333.67" y2="353.5" stroke="#231F20" stroke-width="0.8"/>
<line x1="335.81" y1="351.9" x2="335.81" y2="353.5" stroke="#231F20" stroke-width="0.8"/>
<line x1="337.69" y1="351.9" x2="337.69" y2="353.5" stroke="#231F20" stroke-width="0.8"/>
<text x="256.4" y="364.9" font-size="7.8" text-anchor="middle">0</text>
<text x="296.9" y="364.9" font-size="7.8" textLength="8.6" lengthAdjust="spacingAndGlyphs">10</text>
<text transform="translate(306 361.9) scale(0.5)" font-size="11" style="stroke-width:0.3px">3</text>
<text x="255.6" y="379" font-size="9" textLength="66.3" lengthAdjust="spacingAndGlyphs">CD180 fluorescence</text>
<text x="205.7" y="318.3" font-size="8.8" text-anchor="middle" textLength="29.2" lengthAdjust="spacingAndGlyphs" transform="rotate(-90 205.7 318.3)">Unit area</text>
<line x1="404.8" y1="284.4" x2="404.8" y2="352.4" stroke="#231F20" stroke-width="1.2"/>
<line x1="401.6" y1="351.9" x2="513" y2="351.9" stroke="#231F20" stroke-width="1.1"/>
<line x1="401.6" y1="288.4" x2="404.8" y2="288.4" stroke="#231F20" stroke-width="1"/>
<text x="398.3" y="291.2" font-size="7.8" text-anchor="end" textLength="19.6" lengthAdjust="spacingAndGlyphs">0.015</text>
<line x1="401.6" y1="309.5" x2="404.8" y2="309.5" stroke="#231F20" stroke-width="1"/>
<text x="398.3" y="312.3" font-size="7.8" text-anchor="end" textLength="19.6" lengthAdjust="spacingAndGlyphs">0.010</text>
<line x1="401.6" y1="330.6" x2="404.8" y2="330.6" stroke="#231F20" stroke-width="1"/>
<text x="398.3" y="333.4" font-size="7.8" text-anchor="end" textLength="19.6" lengthAdjust="spacingAndGlyphs">0.005</text>
<line x1="401.6" y1="351.9" x2="404.8" y2="351.9" stroke="#231F20" stroke-width="1"/>
<text x="398.3" y="354.7" font-size="7.8" text-anchor="end" textLength="4.4" lengthAdjust="spacingAndGlyphs">0</text>
<line x1="403.2" y1="351.9" x2="404.8" y2="351.9" stroke="#231F20" stroke-width="1"/>
<line x1="403.2" y1="347.66" x2="404.8" y2="347.66" stroke="#231F20" stroke-width="1"/>
<line x1="403.2" y1="343.42" x2="404.8" y2="343.42" stroke="#231F20" stroke-width="1"/>
<line x1="403.2" y1="339.18" x2="404.8" y2="339.18" stroke="#231F20" stroke-width="1"/>
<line x1="403.2" y1="334.94" x2="404.8" y2="334.94" stroke="#231F20" stroke-width="1"/>
<line x1="403.2" y1="330.7" x2="404.8" y2="330.7" stroke="#231F20" stroke-width="1"/>
<line x1="403.2" y1="326.46" x2="404.8" y2="326.46" stroke="#231F20" stroke-width="1"/>
<line x1="403.2" y1="322.22" x2="404.8" y2="322.22" stroke="#231F20" stroke-width="1"/>
<line x1="403.2" y1="317.98" x2="404.8" y2="317.98" stroke="#231F20" stroke-width="1"/>
<line x1="403.2" y1="313.74" x2="404.8" y2="313.74" stroke="#231F20" stroke-width="1"/>
<line x1="403.2" y1="309.5" x2="404.8" y2="309.5" stroke="#231F20" stroke-width="1"/>
<line x1="403.2" y1="305.26" x2="404.8" y2="305.26" stroke="#231F20" stroke-width="1"/>
<line x1="403.2" y1="301.02" x2="404.8" y2="301.02" stroke="#231F20" stroke-width="1"/>
<line x1="403.2" y1="296.78" x2="404.8" y2="296.78" stroke="#231F20" stroke-width="1"/>
<line x1="403.2" y1="292.54" x2="404.8" y2="292.54" stroke="#231F20" stroke-width="1"/>
<line x1="403.2" y1="288.3" x2="404.8" y2="288.3" stroke="#231F20" stroke-width="1"/>
<line x1="413.75" y1="351.9" x2="413.75" y2="353.5" stroke="#231F20" stroke-width="0.8"/>
<line x1="423.75" y1="351.9" x2="423.75" y2="354.5" stroke="#231F20" stroke-width="0.8"/>
<line x1="428.75" y1="351.9" x2="428.75" y2="353.5" stroke="#231F20" stroke-width="0.8"/>
<line x1="432.75" y1="351.9" x2="432.75" y2="353.5" stroke="#231F20" stroke-width="0.8"/>
<line x1="436.25" y1="351.9" x2="436.25" y2="353.5" stroke="#231F20" stroke-width="0.8"/>
<line x1="439.75" y1="351.9" x2="439.75" y2="353.5" stroke="#231F20" stroke-width="0.8"/>
<line x1="443.75" y1="351.9" x2="443.75" y2="353.5" stroke="#231F20" stroke-width="0.8"/>
<line x1="448.75" y1="351.9" x2="448.75" y2="353.5" stroke="#231F20" stroke-width="0.8"/>
<line x1="454.75" y1="351.9" x2="454.75" y2="353.5" stroke="#231F20" stroke-width="0.8"/>
<line x1="463.75" y1="351.9" x2="463.75" y2="353.5" stroke="#231F20" stroke-width="0.8"/>
<line x1="473.75" y1="351.9" x2="473.75" y2="354.5" stroke="#231F20" stroke-width="0.8"/>
<line x1="485.79" y1="351.9" x2="485.79" y2="353.5" stroke="#231F20" stroke-width="0.8"/>
<line x1="492.83" y1="351.9" x2="492.83" y2="353.5" stroke="#231F20" stroke-width="0.8"/>
<line x1="497.83" y1="351.9" x2="497.83" y2="353.5" stroke="#231F20" stroke-width="0.8"/>
<line x1="501.71" y1="351.9" x2="501.71" y2="353.5" stroke="#231F20" stroke-width="0.8"/>
<line x1="504.88" y1="351.9" x2="504.88" y2="353.5" stroke="#231F20" stroke-width="0.8"/>
<line x1="507.55" y1="351.9" x2="507.55" y2="353.5" stroke="#231F20" stroke-width="0.8"/>
<line x1="509.87" y1="351.9" x2="509.87" y2="353.5" stroke="#231F20" stroke-width="0.8"/>
<line x1="511.92" y1="351.9" x2="511.92" y2="353.5" stroke="#231F20" stroke-width="0.8"/>
<text x="423.75" y="364.9" font-size="7.8" text-anchor="middle">0</text>
<text x="468.1" y="364.9" font-size="7.8" textLength="8.6" lengthAdjust="spacingAndGlyphs">10</text>
<text transform="translate(477.2 361.9) scale(0.5)" font-size="11" style="stroke-width:0.3px">3</text>
<text x="425.6" y="379" font-size="9" textLength="66.3" lengthAdjust="spacingAndGlyphs">CD180 fluorescence</text>
<text x="372.9" y="318.3" font-size="8.8" text-anchor="middle" textLength="29.2" lengthAdjust="spacingAndGlyphs" transform="rotate(-90 372.9 318.3)">Unit area</text>
<rect x="131.8" y="285.9" width="5.2" height="5.2" fill="#C8102E"/>
<text x="140.2" y="290.8" font-size="7.4">Blast gate</text>
<rect x="131.8" y="297.4" width="5.2" height="5.2" fill="#29ADE5"/>
<text x="140.2" y="302.3" font-size="7.4">CD19+</text>
<rect x="131.8" y="308.9" width="5.2" height="5.2" fill="#0B4D8C"/>
<text x="140.2" y="313.8" font-size="7.4">CD34+</text>
<path d="M72 352.2C73.37 352.13 77.83 352.12 80.2 351.8C82.57 351.48 84.35 351.05 86.2 350.3C88.05 349.55 89.95 348.55 91.3 347.3C92.65 346.05 93.38 344.82 94.3 342.8C95.22 340.78 96.12 338.17 96.8 335.2C97.48 332.23 97.93 328.2 98.4 325C98.87 321.8 99.13 319.8 99.6 316C100.07 312.2 100.77 305.85 101.2 302.2C101.63 298.55 101.92 295.78 102.2 294.1C102.48 292.42 102.57 292.57 102.9 292.1C103.23 291.63 103.87 291.88 104.2 291.3C104.53 290.72 104.58 289.45 104.9 288.6C105.22 287.75 105.72 286.47 106.1 286.2C106.48 285.93 106.88 286.02 107.2 287C107.52 287.98 107.75 290.58 108 292.1C108.25 293.62 108.45 295 108.7 296.1C108.95 297.2 109.2 297.68 109.5 298.7C109.8 299.72 110.12 300.32 110.5 302.2C110.88 304.08 111.38 307.4 111.8 310C112.22 312.6 112.55 314.82 113 317.8C113.45 320.78 113.85 324.63 114.5 327.9C115.15 331.17 116 334.52 116.9 337.4C117.8 340.28 118.7 343.12 119.9 345.2C121.1 347.28 122.42 348.82 124.1 349.9C125.78 350.98 127.85 351.33 130 351.7C132.15 352.07 135.83 352.03 137 352.1" fill="none" stroke="#29ADE5" stroke-width="1.35" stroke-linejoin="round" stroke-linecap="round"/>
<path d="M47 352.1C49.5 352.07 58.67 352.03 62 351.9C65.33 351.77 65.65 351.65 67 351.3C68.35 350.95 69.25 350.63 70.1 349.8C70.95 348.97 71.52 348.07 72.1 346.3C72.68 344.53 73.18 341.9 73.6 339.2C74.02 336.5 74.27 333.63 74.6 330.1C74.93 326.57 75.2 322.43 75.6 318C76 313.57 76.6 307.82 77 303.5C77.4 299.18 77.72 294.75 78 292.1C78.28 289.45 78.38 288.58 78.7 287.6C79.02 286.62 79.48 286.2 79.9 286.2C80.32 286.2 80.73 286.7 81.2 287.6C81.67 288.5 82.28 290 82.7 291.6C83.12 293.2 83.32 295.1 83.7 297.2C84.08 299.3 84.55 302.02 85 304.2C85.45 306.38 85.93 308.33 86.4 310.3C86.87 312.27 87.15 313.87 87.8 316C88.45 318.13 89.55 321.08 90.3 323.1C91.05 325.12 91.63 326.42 92.3 328.1C92.97 329.78 93.55 331.52 94.3 333.2C95.05 334.88 95.95 336.52 96.8 338.2C97.65 339.88 98.47 341.7 99.4 343.3C100.33 344.9 101.4 346.63 102.4 347.8C103.4 348.97 104.22 349.72 105.4 350.3C106.58 350.88 108.07 351.03 109.5 351.3C110.93 351.57 111.42 351.77 114 351.9C116.58 352.03 123.17 352.07 125 352.1" fill="none" stroke="#0B4D8C" stroke-width="1.35" stroke-linejoin="round" stroke-linecap="round"/>
<path d="M47 352.1C49.5 352.08 58.48 352.13 62 352C65.52 351.87 66.42 351.75 68.1 351.3C69.78 350.85 70.93 350.13 72.1 349.3C73.27 348.47 74.08 347.47 75.1 346.3C76.12 345.13 77.27 343.62 78.2 342.3C79.13 340.98 79.95 339.25 80.7 338.4C81.45 337.55 81.95 337.23 82.7 337.2C83.45 337.17 84.27 337.9 85.2 338.2C86.13 338.5 87.28 338.97 88.3 339C89.32 339.03 90.3 338.78 91.3 338.4C92.3 338.02 93.28 337.32 94.3 336.7C95.32 336.08 96.38 335.63 97.4 334.7C98.42 333.77 99.23 332.37 100.4 331.1C101.57 329.83 103.05 328.35 104.4 327.1C105.75 325.85 107.18 324.47 108.5 323.6C109.82 322.73 111.1 321.88 112.3 321.9C113.5 321.92 114.63 322.7 115.7 323.7C116.77 324.7 117.7 326.22 118.7 327.9C119.7 329.58 120.6 331.62 121.7 333.8C122.8 335.98 124.12 338.82 125.3 341C126.48 343.18 127.52 345.32 128.8 346.9C130.08 348.48 131.4 349.7 133 350.5C134.6 351.3 136.4 351.45 138.4 351.7C140.4 351.95 142.23 351.95 145 352C147.77 352.05 153.33 352 155 352" fill="none" stroke="#C8102E" stroke-width="1.35" stroke-linejoin="round" stroke-linecap="round"/>
<path d="M250 351.9C251 351.75 253.95 351.4 256 351C258.05 350.6 260.3 349.82 262.3 349.5C264.3 349.18 265.98 349.18 268 349.1C270.02 349.02 272.67 349.25 274.4 349C276.13 348.75 277.05 348.03 278.4 347.6C279.75 347.17 281.32 347 282.5 346.4C283.68 345.8 284.58 344.98 285.5 344C286.42 343.02 287.27 341.5 288 340.5C288.73 339.5 289.03 339.95 289.9 338C290.77 336.05 292.1 331.65 293.2 328.8C294.3 325.95 295.5 323 296.5 320.9C297.5 318.8 298.37 317.32 299.2 316.2C300.03 315.08 300.73 314.08 301.5 314.2C302.27 314.32 303.08 315.57 303.8 316.9C304.52 318.23 305.03 319.78 305.8 322.2C306.57 324.62 307.53 328.43 308.4 331.4C309.27 334.37 310.02 337.35 311 340C311.98 342.65 313.08 345.53 314.3 347.3C315.52 349.07 316.75 349.88 318.3 350.6C319.85 351.32 320.32 351.37 323.6 351.6C326.88 351.83 335.6 351.93 338 352" fill="none" stroke="#29ADE5" stroke-width="1.35" stroke-linejoin="round" stroke-linecap="round"/>
<path d="M237.5 352C237.92 351.97 239.07 351.92 240 351.8C240.93 351.68 242.17 351.72 243.1 351.3C244.03 350.88 244.85 350.47 245.6 349.3C246.35 348.13 246.93 346.48 247.6 344.3C248.27 342.12 249 339.07 249.6 336.2C250.2 333.33 250.7 330.3 251.2 327.1C251.7 323.9 252.02 320.82 252.6 317C253.18 313.18 254.1 307.68 254.7 304.2C255.3 300.72 255.75 298.12 256.2 296.1C256.65 294.08 256.98 292.25 257.4 292.1C257.82 291.95 258.33 294.52 258.7 295.2C259.07 295.88 259.27 295.03 259.6 296.2C259.93 297.37 260.33 299.85 260.7 302.2C261.07 304.55 261.48 307.83 261.8 310.3C262.12 312.77 262.27 314.53 262.6 317C262.93 319.47 263.35 322.4 263.8 325.1C264.25 327.8 264.72 330.77 265.3 333.2C265.88 335.63 266.55 337.85 267.3 339.7C268.05 341.55 268.87 343.03 269.8 344.3C270.73 345.57 271.8 346.47 272.9 347.3C274 348.13 274.97 348.72 276.4 349.3C277.83 349.88 279.57 350.42 281.5 350.8C283.43 351.18 284.92 351.42 288 351.6C291.08 351.78 291.67 351.83 300 351.9C308.33 351.97 331.67 351.98 338 352" fill="none" stroke="#0B4D8C" stroke-width="1.35" stroke-linejoin="round" stroke-linecap="round"/>
<path d="M237.5 351.9C238.08 351.88 239.57 351.93 241 351.8C242.43 351.67 244.4 351.38 246.1 351.1C247.8 350.82 249.52 350.43 251.2 350.1C252.88 349.77 254.52 349.48 256.2 349.1C257.88 348.72 259.62 348.27 261.3 347.8C262.98 347.33 264.62 346.88 266.3 346.3C267.98 345.72 269.72 345.15 271.4 344.3C273.08 343.45 274.88 342.25 276.4 341.2C277.92 340.15 279.23 339.08 280.5 338C281.77 336.92 282.77 335.8 284 334.7C285.23 333.6 286.58 332.28 287.9 331.4C289.22 330.52 290.57 329.8 291.9 329.4C293.23 329 294.58 328.88 295.9 329C297.22 329.12 298.6 329.48 299.8 330.1C301 330.72 302 331.48 303.1 332.7C304.2 333.92 305.3 335.63 306.4 337.4C307.5 339.17 308.48 341.43 309.7 343.3C310.92 345.17 312.27 347.28 313.7 348.6C315.13 349.92 316.25 350.67 318.3 351.2C320.35 351.73 322.72 351.68 326 351.8C329.28 351.92 336 351.88 338 351.9" fill="none" stroke="#C8102E" stroke-width="1.35" stroke-linejoin="round" stroke-linecap="round"/>
<path d="M404.8 352C406.53 351.97 411.78 352 415.2 351.8C418.62 351.6 422.78 351.3 425.3 350.8C427.82 350.3 428.8 349.72 430.3 348.8C431.8 347.88 433.12 346.57 434.3 345.3C435.48 344.03 436.38 343.05 437.4 341.2C438.42 339.35 439.48 336.55 440.4 334.2C441.32 331.85 442.13 329.2 442.9 327.1C443.67 325 444.37 323.8 445 321.6C445.63 319.4 446.12 316.2 446.7 313.9C447.28 311.6 447.87 309.5 448.5 307.8C449.13 306.1 449.95 304.53 450.5 303.7C451.05 302.87 451.3 303.08 451.8 302.8C452.3 302.52 453.02 302.37 453.5 302C453.98 301.63 454.27 300.55 454.7 300.6C455.13 300.65 455.58 301.22 456.1 302.3C456.62 303.38 457.08 304.58 457.8 307.1C458.52 309.62 459.53 314.42 460.4 317.4C461.27 320.38 462.15 322.45 463 325C463.85 327.55 464.65 329.98 465.5 332.7C466.35 335.42 467.25 338.87 468.1 341.3C468.95 343.73 469.62 345.82 470.6 347.3C471.58 348.78 472.57 349.5 474 350.2C475.43 350.9 476.53 351.2 479.2 351.5C481.87 351.8 484.73 351.92 490 352C495.27 352.08 507.33 352 510.8 352" fill="none" stroke="#29ADE5" stroke-width="1.35" stroke-linejoin="round" stroke-linecap="round"/>
<path d="M404.8 347.5C405.1 347.95 405.8 350.07 406.6 350.2C407.4 350.33 408.6 349.45 409.6 348.3C410.6 347.15 411.7 345.48 412.6 343.3C413.5 341.12 414.4 337.9 415 335.2C415.6 332.5 415.87 329.8 416.2 327.1C416.53 324.4 416.72 321.68 417 319C417.28 316.32 417.53 313.8 417.9 311C418.27 308.2 418.73 305.02 419.2 302.2C419.67 299.38 420.23 296.28 420.7 294.1C421.17 291.92 421.58 290.13 422 289.1C422.42 288.07 422.75 287.9 423.2 287.9C423.65 287.9 424.18 288.23 424.7 289.1C425.22 289.97 425.78 291.58 426.3 293.1C426.82 294.62 427.38 296.52 427.8 298.2C428.22 299.88 428.42 301.18 428.8 303.2C429.18 305.22 429.72 308 430.1 310.3C430.48 312.6 430.73 314.53 431.1 317C431.47 319.47 431.77 322.4 432.3 325.1C432.83 327.8 433.53 330.85 434.3 333.2C435.07 335.55 435.97 337.35 436.9 339.2C437.83 341.05 438.82 343.03 439.9 344.3C440.98 345.57 442.13 346.17 443.4 346.8C444.67 347.43 446.07 347.68 447.5 348.1C448.93 348.52 450.13 348.87 452 349.3C453.87 349.73 456.17 350.37 458.7 350.7C461.23 351.03 463.65 351.1 467.2 351.3C470.75 351.5 472.73 351.78 480 351.9C487.27 352.02 505.67 351.98 510.8 352" fill="none" stroke="#0B4D8C" stroke-width="1.35" stroke-linejoin="round" stroke-linecap="round"/>
<path d="M404 350.5C404.4 350.57 405.25 351.05 406.4 350.9C407.55 350.75 409.5 350.3 410.9 349.6C412.3 348.9 413.5 348.02 414.8 346.7C416.1 345.38 417.55 343.2 418.7 341.7C419.85 340.2 420.7 339.12 421.7 337.7C422.7 336.28 423.77 334.38 424.7 333.2C425.63 332.02 426.37 331.37 427.3 330.6C428.23 329.83 429.3 329.27 430.3 328.6C431.3 327.93 432.28 327.27 433.3 326.6C434.32 325.93 435.38 325.27 436.4 324.6C437.42 323.93 438.53 323.07 439.4 322.6C440.27 322.13 440.73 321.8 441.6 321.8C442.47 321.8 443.48 322.03 444.6 322.6C445.72 323.17 446.95 323.97 448.3 325.2C449.65 326.43 451.4 328.32 452.7 330C454 331.68 454.97 333.42 456.1 335.3C457.23 337.18 458.35 339.58 459.5 341.3C460.65 343.02 461.72 344.32 463 345.6C464.28 346.88 465.5 348.15 467.2 349C468.9 349.85 471.2 350.28 473.2 350.7C475.2 351.12 476.4 351.3 479.2 351.5C482 351.7 484.73 351.82 490 351.9C495.27 351.98 507.33 351.98 510.8 352" fill="none" stroke="#C8102E" stroke-width="1.35" stroke-linejoin="round" stroke-linecap="round"/>
</svg>
</body></html>
